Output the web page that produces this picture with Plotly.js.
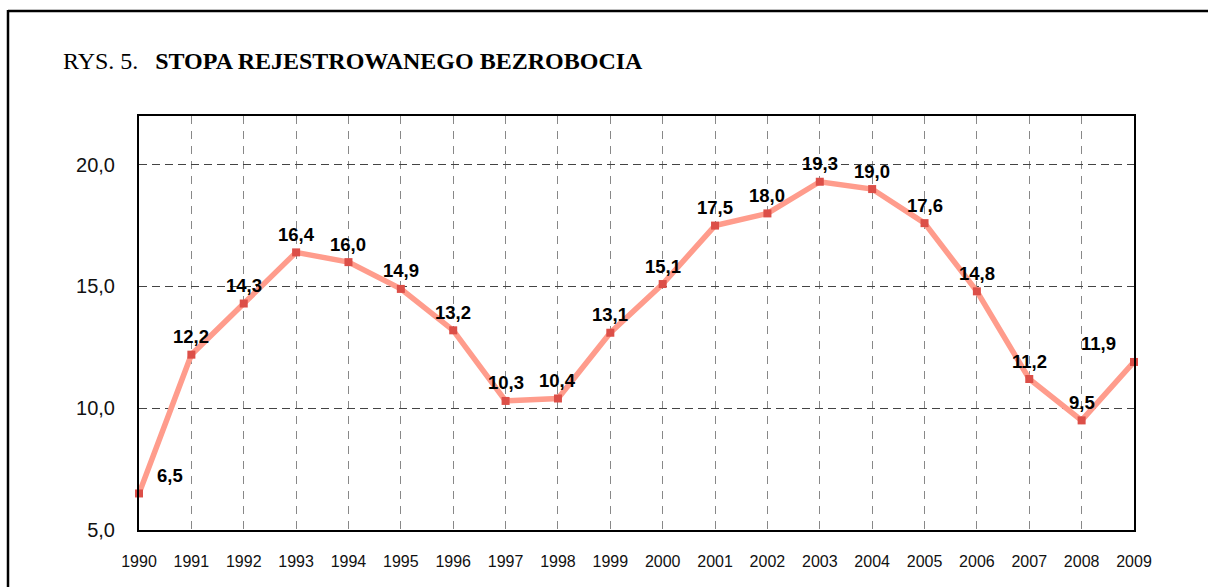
<!DOCTYPE html>
<html>
<head>
<meta charset="utf-8">
<script src="https://cdn.plot.ly/plotly-3.0.1.min.js"></script>
<style>
html,body{margin:0;padding:0;background:#fff;}
#chart{width:1208px;height:587px;}
</style>
</head>
<body>
<div id="chart"></div>
<script>
// ---- data ----
const years = [1990,1991,1992,1993,1994,1995,1996,1997,1998,1999,2000,2001,2002,2003,2004,2005,2006,2007,2008,2009];
const rates = [6.5,12.2,14.3,16.4,16.0,14.9,13.2,10.3,10.4,13.1,15.1,17.5,18.0,19.3,19.0,17.6,14.8,11.2,9.5,11.9];
const yTicks = [5,10,15,20];
const yTickLabels = ['5,0','10,0','15,0','20,0'];
const titlePrefix = 'RYS. 5.';
const titleMain = 'STOPA REJESTROWANEGO BEZROBOCIA';

// ---- layout geometry ----
const W = 1208, H = 587;
const M = {l:139, r:74, t:116, b:57};
const pw = W - M.l - M.r, ph = H - M.t - M.b;
const px2paperX = px => (px - M.l) / pw;
const px2paperY = py => 1 - (py - M.t) / ph;

const fmt = v => v.toFixed(1).replace('.', ',');

// label offsets (pixels) for special cases
const labelShift = {0:{x:31, y:18}, 19:{x:-36, y:18}};

const annotations = years.map((yr, i) => {
  const s = labelShift[i] || {x:0, y:18};
  return {
    x: yr, y: rates[i], xref:'x', yref:'y',
    text: '<b>' + fmt(rates[i]) + '</b>',
    showarrow:false, xshift:s.x, yshift:s.y,
    font:{family:'Liberation Sans, Arial, sans-serif', size:18.5, color:'#000'}
  };
});

annotations.push({
  xref:'paper', yref:'paper',
  x: px2paperX(61), y: px2paperY(61),
  xanchor:'left', yanchor:'middle', showarrow:false,
  text: titlePrefix + '\u00a0\u00a0\u2009<b>' + titleMain + '</b>',
  font:{family:'Liberation Serif, Times New Roman, serif', size:24, color:'#000'}
});

const shapes = [
  {type:'line', xref:'paper', yref:'paper', x0:px2paperX(8), x1:px2paperX(1210), y0:px2paperY(11), y1:px2paperY(11), line:{color:'#000', width:2.5}},
  {type:'line', xref:'paper', yref:'paper', x0:px2paperX(8), x1:px2paperX(8), y0:px2paperY(10), y1:px2paperY(590), line:{color:'#000', width:2.5}}
];

const trace = {
  x: years, y: rates, type:'scatter', mode:'lines+markers',
  line:{color:'#FF9C8C', width:5.5},
  marker:{symbol:'square', size:8, color:'#DC4F48'},
  cliponaxis:false, hoverinfo:'skip'
};

const layout = {
  width:W, height:H,
  margin:M,
  paper_bgcolor:'#fff', plot_bgcolor:'#fff',
  showlegend:false,
  separators:', ',
  xaxis:{
    range:[1990,2009], tickmode:'array', tickvals:years, ticktext:years.map(String),
    showgrid:true, gridcolor:'#888', gridwidth:1, griddash:'8px,7px',
    showline:true, linecolor:'#000', linewidth:2, mirror:true,
    ticks:'outside', ticklen:16, tickcolor:'rgba(0,0,0,0)',
    zeroline:false,
    tickfont:{family:'Liberation Sans, Arial, sans-serif', size:16, color:'#111'}
  },
  yaxis:{
    range:[5,22], tickmode:'array', tickvals:yTicks, ticktext:yTickLabels,
    showgrid:true, gridcolor:'#444', gridwidth:1, griddash:'8px,5px',
    showline:true, linecolor:'#000', linewidth:2, mirror:true,
    ticks:'outside', ticklen:18, tickcolor:'rgba(0,0,0,0)',
    zeroline:false,
    tickfont:{family:'Liberation Sans, Arial, sans-serif', size:20, color:'#111'}
  },
  annotations: annotations,
  shapes: shapes
};

Plotly.newPlot('chart', [trace], layout, {displayModeBar:false, staticPlot:true});
</script>
</body>
</html>
